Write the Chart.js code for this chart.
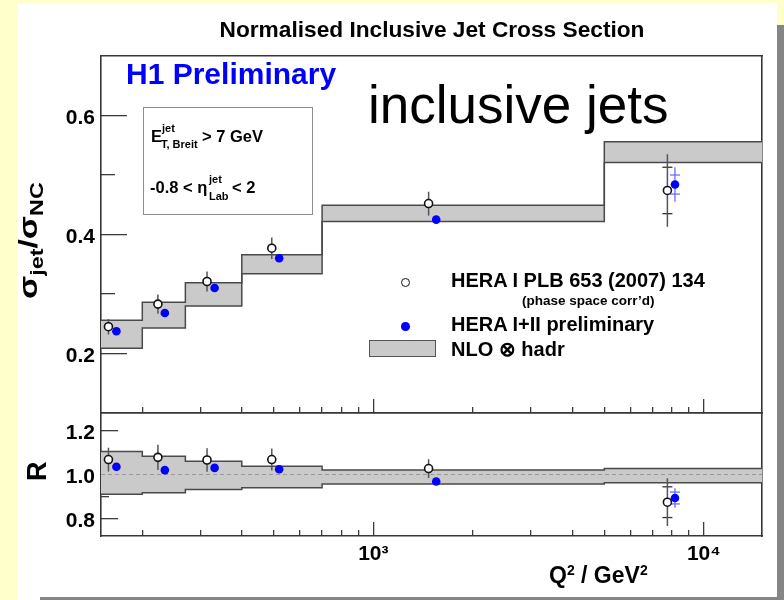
<!DOCTYPE html>
<html>
<head>
<meta charset="utf-8">
<title>Normalised Inclusive Jet Cross Section</title>
<script src="https://cdn.jsdelivr.net/npm/chart.js@4/dist/chart.umd.min.js"></script>
<style>
  html, body { margin: 0; padding: 0; }
  body { width: 784px; height: 600px; position: relative; overflow: hidden; background: #ffffcc;
         font-family: "Liberation Sans", Arial, Helvetica, sans-serif; }
  #sheet   { position: absolute; left: 17px; top: 4px; width: 760px; height: 596px; background: #fff; }
  #shadowR { position: absolute; left: 777px; top: 25px; width: 7px; height: 575px; background: #858585; }
  #shadowB { position: absolute; left: 40px; top: 597px; width: 737px; height: 3px; background: #858585; }
  canvas { position: absolute; left: 0; }
  .t { position: absolute; white-space: nowrap; line-height: 1; color: #000; }
  .b { font-weight: bold; }
  #infobox { position: absolute; left: 143px; top: 107px; width: 168px; height: 106px;
             border: 1.5px solid #8c8c8c; background: #fff; }
  .mk { position: absolute; box-sizing: border-box; border-radius: 50%; }
  #legBand { position: absolute; left: 369px; top: 340px; width: 67px; height: 17px; box-sizing: border-box;
             background: #cacaca; border: 1.5px solid #555; }
  .rot { position: absolute; white-space: nowrap; line-height: 1; font-weight: bold; transform-origin: 0 0; }
</style>
</head>
<body>
<div id="sheet"></div>
<div id="shadowR"></div>
<div id="shadowB"></div>
<canvas id="xsecPanel" width="784" height="440" style="top:0"></canvas>
<canvas id="ratioPanel" width="784" height="210" style="top:390px"></canvas>

<div id="infobox"></div>
<div id="legCircle" class="mk" style="left:401px;top:278px;width:9px;height:9px;border:1.6px solid #111;background:#fff;"></div>
<div id="legDot" class="mk" style="left:401px;top:322px;width:8.5px;height:8.5px;background:#0000ff;"></div>
<div id="legBand"></div>

<script>
// ---------------- data ----------------
// Q^2 bin edges (GeV^2) and NLO (x hadronisation) band limits per bin
const q2BinEdges    = [150, 200, 270, 400, 700, 5000, 15000];
const nloUpper      = [0.256, 0.286, 0.319, 0.366, 0.449, 0.556];
const nloLower      = [0.209, 0.243, 0.280, 0.334, 0.422, 0.521];
const ratioNloUpper = [1.105, 1.083, 1.060, 1.038, 1.020, 1.027];
const ratioNloLower = [0.910, 0.917, 0.932, 0.940, 0.957, 0.962];

// HERA I (PLB 653 (2007) 134), phase space corrected
const heraIQ2        = [158, 223, 314, 493, 1470, 7760];
const heraIXsec      = [0.245, 0.283, 0.321, 0.377, 0.452, 0.474];
const heraIXsecErr   = [0.013, 0.016, 0.017, 0.018, 0.020, 0.061];
const heraIXsecStat  = [null, null, null, null, null, 0.039];
const heraIRatio     = [1.068, 1.078, 1.066, 1.068, 1.027, 0.874];
const heraIRatioErr  = [0.054, 0.058, 0.053, 0.050, 0.043, 0.109];
const heraIRatioStat = [null, null, null, null, null, 0.070];

// HERA I+II preliminary
const heraIIQ2        = [167, 234, 331, 519, 1550, 8180];
const heraIIXsec      = [0.2375, 0.268, 0.310, 0.360, 0.425, 0.484];
const heraIIXsecErr   = [0.005, 0.005, 0.005, 0.006, 0.006, 0.029];
const heraIIXsecStat  = [null, null, null, null, null, 0.016];
const heraIIRatio     = [1.035, 1.020, 1.030, 1.024, 0.968, 0.893];
const heraIIRatioErr  = [0.010, 0.010, 0.010, 0.010, 0.010, 0.044];
const heraIIRatioStat = [null, null, null, null, null, 0.027];

// axis ticks
const q2MajorTicks    = [1000, 10000];
const q2TickLabels    = ['10³', '10⁴'];
const q2MinorTicks    = [200, 300, 400, 500, 600, 700, 800, 900, 2000, 3000, 4000, 5000, 6000, 7000, 8000, 9000];
const xsecMajorTicks  = [0.2, 0.4, 0.6];
const xsecMinorTicks  = [0.3, 0.5];
const ratioMajorTicks = [0.8, 1.0, 1.2];
const ratioMinorTicks = [0.9, 1.1];

// ---------------- helpers ----------------
const FONT = '"Liberation Sans", Arial, Helvetica, sans-serif';
Chart.defaults.font.family = FONT;

const stepPoints = (edges, vals) => edges.map((e, i) => ({ x: e, y: vals[Math.min(i, vals.length - 1)] }));
const markerPoints = (xs, ys) => xs.map((x, i) => ({ x, y: ys[i] }));
function errorSegments(xs, ys, errs) {
  const pts = [];
  xs.forEach((x, i) => {
    if (errs[i] == null) return;
    pts.push({ x, y: ys[i] - errs[i] }, { x, y: ys[i] + errs[i] }, { x, y: null });
  });
  return pts;
}
function capPoints(xs, ys, errs) {
  const pts = [];
  xs.forEach((x, i) => {
    if (errs[i] == null) return;
    pts.push({ x, y: ys[i] - errs[i] }, { x, y: ys[i] + errs[i] });
  });
  return pts;
}

const tickColor = '#3c3c3c';
const frame = { display: true, color: '#363636', width: 1.6 };
const noBorder = { display: false };
const labelFont = { family: FONT, size: 21, weight: 'bold' };
const setTicks = vals => s => { s.ticks = vals.map(v => ({ value: v })); };
const Q2_MIN = 150, Q2_MAX = 15000;

// zero-size axis that only draws inward tick marks of a given length
function tickAxis(horizontal, type, min, max, values, len, border) {
  return {
    type, position: horizontal ? 'bottom' : 'left', min, max, weight: 0,
    afterBuildTicks: setTicks(values),
    afterFit: s => { if (horizontal) s.height = 0; else s.width = 0; },
    border: border || noBorder,
    grid: { drawOnChartArea: false, drawTicks: true, tickLength: -len, color: tickColor, lineWidth: 1.3 },
    ticks: { display: false, autoSkip: false }
  };
}

function frameAxes() {
  return {
    xTop:   { type: 'linear', position: 'top',   afterFit: s => { s.height = 0; },
              border: frame, grid: { display: false }, ticks: { display: false } },
    yRight: { type: 'linear', position: 'right', afterFit: s => { s.width = 0; },
              border: frame, grid: { display: false }, ticks: { display: false } }
  };
}

function yAxes(min, max, majors, minors, majLen, minLen) {
  return {
    y: {
      type: 'linear', position: 'left', min, max, weight: 1,
      afterBuildTicks: setTicks(majors),
      afterFit: s => { s.width = 101; },
      border: frame,
      grid: { drawOnChartArea: false, drawTicks: false },
      ticks: { autoSkip: false, padding: 6, labelOffset: 3,
               callback: v => Number(v).toFixed(1), font: labelFont, color: '#000' }
    },
    yMajor: tickAxis(false, 'linear', min, max, majors, majLen),
    yMinor: tickAxis(false, 'linear', min, max, minors, minLen)
  };
}

function panelDatasets(upper, lower, iY, iErr, iStat, iiY, iiErr, iiStat, withUnity) {
  const ds = [
    { label: 'NLO upper', data: stepPoints(q2BinEdges, upper), stepped: 'before',
      borderColor: '#4a4a4a', borderWidth: 1.5, backgroundColor: '#cacaca', fill: '+1', pointRadius: 0, order: 10 },
    { label: 'NLO lower', data: stepPoints(q2BinEdges, lower), stepped: 'before',
      borderColor: '#4a4a4a', borderWidth: 1.5, fill: false, pointRadius: 0, order: 9 },
    { label: 'HERA I errors', data: errorSegments(heraIQ2, iY, iErr),
      borderColor: '#555', borderWidth: 1.5, fill: false, pointRadius: 0, order: 5 },
    { label: 'HERA I stat', data: capPoints(heraIQ2, iY, iStat), showLine: false,
      pointStyle: 'line', pointRadius: 5, pointBorderColor: '#333', pointBorderWidth: 1.3, order: 5 },
    { label: 'HERA I+II errors', data: errorSegments(heraIIQ2, iiY, iiErr),
      borderColor: '#6262ff', borderWidth: 1.2, fill: false, pointRadius: 0, order: 4 },
    { label: 'HERA I+II stat', data: capPoints(heraIIQ2, iiY, iiStat), showLine: false,
      pointStyle: 'line', pointRadius: 5, pointBorderColor: '#6262ff', pointBorderWidth: 1.2, order: 4 },
    { label: 'HERA I PLB 653 (2007) 134', data: markerPoints(heraIQ2, iY), showLine: false,
      pointStyle: 'circle', pointRadius: 4, pointBackgroundColor: '#fff', pointBorderColor: '#111',
      pointBorderWidth: 1.6, order: 2 },
    { label: 'HERA I+II preliminary', data: markerPoints(heraIIQ2, iiY), showLine: false,
      pointStyle: 'circle', pointRadius: 4.3, pointBackgroundColor: '#0000ff', pointBorderColor: '#0000ff',
      pointBorderWidth: 0, order: 1 }
  ];
  if (withUnity) {
    ds.push({ label: 'unity', data: [{ x: Q2_MIN, y: 1 }, { x: Q2_MAX, y: 1 }],
      borderColor: '#9a9a9a', borderWidth: 1, borderDash: [4, 3], pointRadius: 0, fill: false, order: 8 });
  }
  return ds;
}

const common = {
  responsive: false, animation: false, events: [],
  elements: { line: { tension: 0 } },
  plugins: { legend: { display: false }, tooltip: { enabled: false } }
};

// upper panel: normalised cross section (x axis carries only tick marks)
new Chart(document.getElementById('xsecPanel'), {
  type: 'line',
  data: { datasets: panelDatasets(nloUpper, nloLower, heraIXsec, heraIXsecErr, heraIXsecStat,
                                  heraIIXsec, heraIIXsecErr, heraIIXsecStat, false) },
  options: Object.assign({}, common, {
    layout: { padding: { left: 0, right: 22, top: 56, bottom: 27 } },
    scales: Object.assign({
      x: tickAxis(true, 'logarithmic', Q2_MIN, Q2_MAX, q2MajorTicks, 14, frame),
      xMinor: tickAxis(true, 'logarithmic', Q2_MIN, Q2_MAX, q2MinorTicks, 6)
    }, yAxes(0.1, 0.7, xsecMajorTicks, xsecMinorTicks, 26, 14), frameAxes())
  })
});

// lower panel: ratio to NLO, with the labelled Q^2 axis
new Chart(document.getElementById('ratioPanel'), {
  type: 'line',
  data: { datasets: panelDatasets(ratioNloUpper, ratioNloLower, heraIRatio, heraIRatioErr, heraIRatioStat,
                                  heraIIRatio, heraIIRatioErr, heraIIRatioStat, true) },
  options: Object.assign({}, common, {
    layout: { padding: { left: 0, right: 22, top: 23, bottom: 0 } },
    scales: Object.assign({
      x: {
        type: 'logarithmic', position: 'bottom', min: Q2_MIN, max: Q2_MAX, weight: 1,
        afterBuildTicks: setTicks(q2MajorTicks),
        afterFit: s => { s.height = 64; },
        border: frame,
        grid: { drawOnChartArea: false, drawTicks: false },
        ticks: { autoSkip: false, maxRotation: 0, minRotation: 0, padding: 6,
                 callback: v => { const k = q2MajorTicks.indexOf(v); return k >= 0 ? q2TickLabels[k] : ''; },
                 font: labelFont, color: '#000' }
      },
      xMajor: tickAxis(true, 'logarithmic', Q2_MIN, Q2_MAX, q2MajorTicks, 14),
      xMinor: tickAxis(true, 'logarithmic', Q2_MIN, Q2_MAX, q2MinorTicks, 6)
    }, yAxes(0.72, 1.28, ratioMajorTicks, ratioMinorTicks, 17, 8), frameAxes())
  })
});

// ---------------- text ----------------
// place a text run by its left edge and baseline (line-height 1, Liberation Sans metrics)
function addText(html, left, baseline, size, opts = {}) {
  const d = document.createElement('div');
  d.className = 't' + (opts.bold ? ' b' : '');
  d.innerHTML = html;
  d.style.fontSize = size + 'px';
  d.style.top = (baseline - 0.8465 * size) + 'px';
  d.style.left = left + 'px';
  if (opts.color) d.style.color = opts.color;
  if (opts.center) d.style.transform = 'translateX(-50%)';
  document.body.appendChild(d);
  return d;
}

addText('Normalised Inclusive Jet Cross Section', 432, 37, 22.7, { bold: true, center: true });
addText('H1 Preliminary', 126, 84, 30, { bold: true, color: '#0000ff' });
addText('inclusive jets', 368, 123.3, 53);

// cut box
addText('E', 151, 141.7, 16.5, { bold: true });
addText('jet', 162, 132, 11, { bold: true });
addText('T, Breit', 161, 148.5, 11, { bold: true });
addText('&gt; 7 GeV', 202, 141.7, 16.5, { bold: true });
addText('-0.8 &lt; &eta;', 150, 192.7, 16.5, { bold: true });
addText('jet', 209, 183, 11, { bold: true });
addText('Lab', 209, 200, 11, { bold: true });
addText('&lt; 2', 232, 192.7, 16.5, { bold: true });

// legend
addText('HERA I PLB 653 (2007) 134', 451, 286.7, 20, { bold: true });
addText('(phase space corr&rsquo;d)', 522, 305, 13.5, { bold: true });
addText('HERA I+II preliminary', 451, 330.7, 20, { bold: true });
addText('NLO &otimes; hadr', 451, 356, 20, { bold: true });

// x-axis title
addText('Q<span style="font-size:14px;position:relative;top:-8px">2</span> / GeV<span style="font-size:14px;position:relative;top:-8px">2</span>',
        549, 583, 23, { bold: true });

// rotated y-axis titles: local (u, v) maps to page (left + v, top - u)
function addRotated(html, baselineX, startY, size, stretch) {
  const d = document.createElement('div');
  d.className = 'rot';
  d.style.fontSize = size + 'px';
  d.style.left = (baselineX - 0.8465 * size) + 'px';
  d.style.top = startY + 'px';
  d.style.transform = 'rotate(-90deg) scaleX(' + stretch + ')';
  d.innerHTML = html;
  document.body.appendChild(d);
}
addRotated('&sigma;<span style="font-size:18px;position:relative;top:6px">jet</span>/&sigma;<span style="font-size:18px;position:relative;top:6px">NC</span>',
           37, 299, 26, 1.3);
addRotated('R', 46.7, 480.5, 27, 1);
</script>
</body>
</html>
